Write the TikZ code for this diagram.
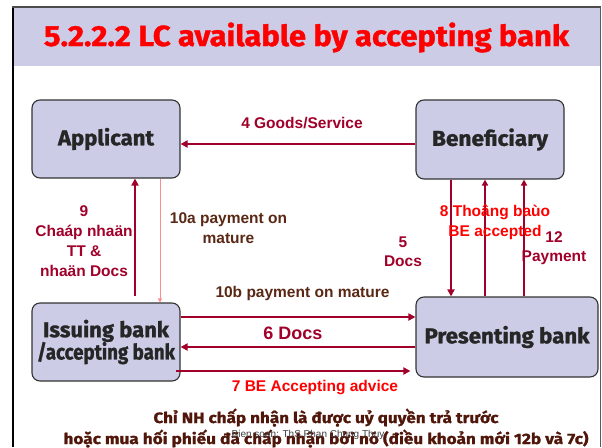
\documentclass[tikz,border=0pt]{standalone}
\usepackage{fontspec}
\usepackage{graphicx}
\setmainfont{Liberation Sans}
\newfontfamily\headfont[BoldFeatures={FakeBold=1.2}]{Fira Sans}
\usetikzlibrary{arrows.meta}

\definecolor{band}{HTML}{CCCCE6}
\definecolor{crim}{HTML}{A0002A}
\definecolor{brownt}{HTML}{5A2814}
\definecolor{darkb}{HTML}{50160A}
\definecolor{boxtxt}{HTML}{262626}
\definecolor{pinkline}{HTML}{FF8C8C}

% stretch a text horizontally to a given width, keeping its height
\newcommand\stretchto[2]{\resizebox{#1}{\height}{#2}}

\begin{document}
\begin{tikzpicture}[x=1pt,y=-1pt,
  party/.style={draw=black!80, line width=1.1pt, fill=band, rounded corners=8pt,
    inner sep=0pt, text=boxtxt, align=center,
    font=\headfont\bfseries\fontsize{21.5}{22}\selectfont},
  flow/.style={draw=crim, line width=2pt, -{Triangle[length=7pt,width=7pt]}},
  flowthin/.style={draw=crim, line width=1.5pt, -{Triangle[length=6pt,width=6pt]}},
  thinpink/.style={draw=pinkline, line width=0.9pt, -{Triangle[length=4pt,width=4pt]}},
  lbl/.style={inner sep=0pt, align=center, font=\bfseries\fontsize{15.5}{20}\selectfont},
  note/.style={inner sep=0pt, text=darkb, font=\headfont\bfseries\fontsize{15}{16}\selectfont}]

\useasboundingbox (0,0) rectangle (602,447);
\fill[white] (0,0) rectangle (602,447);

% slide frame and title band
\fill[band] (14,8) rectangle (600,66);
\draw[line width=2.5pt] (13,6) -- (13,447);
\draw[black!70, line width=1.2pt] (12,7) -- (600.5,7);
\draw[black!65, line width=1pt] (600,7) -- (600,447);

\node[inner sep=0pt, anchor=base, text=red] (title) at (306.5,46)
  {\stretchto{525pt}{\headfont\bfseries\fontsize{29}{30}\selectfont 5.2.2.2 LC available by accepting bank}};

% parties
\node[party, minimum width=148pt, minimum height=78pt] (app) at (106,139)
  {\stretchto{96pt}{Applicant}};
\node[party, minimum width=148pt, minimum height=79pt] (ben) at (490,139.5)
  {\stretchto{116pt}{Beneficiary}};
\node[party, minimum width=148pt, minimum height=78pt] (iss) at (106,342)
  {\stretchto{126pt}{Issuing bank}\\[-1pt]\stretchto{138pt}{/accepting bank}};
\node[party, minimum width=182pt, minimum height=80pt] (pres) at (507,337)
  {\stretchto{165pt}{Presenting bank}};

% helper points for the flows between the parties
\coordinate (r1) at ([yshift=25pt]iss.east);
\coordinate (r2) at ([yshift=-5pt]iss.east);
\coordinate (r3) at ([xshift=-5pt,yshift=-29pt]iss.east);
\coordinate (g4) at ([yshift=-4.5pt]ben.west);
\coordinate (d9) at ([xshift=29pt,yshift=6pt]iss.north);
\coordinate (u9) at ([xshift=29pt]app.south);
\coordinate (t10) at ([xshift=54pt]app.south);
\coordinate (b5) at ([xshift=-39pt]ben.south);
\coordinate (b8) at ([xshift=-5pt]ben.south);
\coordinate (b12) at ([xshift=34pt]ben.south);

% flows
\draw[flow] (g4) -- (g4 -| app.east);
\draw[flow, line width=2.3pt] (d9) -- (u9);
\draw[thinpink] (t10) -- (t10 |- iss.north);
\draw[flow, line width=2.3pt] (b5) -- (b5 |- pres.north);
\draw[flowthin] (b8 |- pres.north) -- (b8);
\draw[flowthin] (b12 |- pres.north) -- (b12);
\draw[flow] (r1) -- (r1 -| pres.west);
\draw[flow] (r2 -| pres.west) -- (r2);
\draw[flow, shorten >=5pt] (r3) -- (r3 -| pres.west);

% flow labels
\node[lbl, text=crim, anchor=base] (l4) at (302,128) {4 Goods/Service};
\node[lbl, text=crim] (l9) at (84,241) {9\\Chaáp nhaän\\TT \&\\nhaän Docs};
\node[lbl, text=brownt] (l10a) at (228.5,228) {10a payment on\\mature};
\node[lbl, text=crim, font=\bfseries\fontsize{15.5}{18.5}\selectfont] (l5) at (403,251.5) {5\\Docs};
\node[lbl, text=red] (l8) at (495,222) {8 Thoâng baùo\\BE accepted};
\node[lbl, text=crim, font=\bfseries\fontsize{15.5}{19}\selectfont] (l12) at (554,248.5) {12\\Payment};
\node[lbl, text=brownt, anchor=base] (l10b) at (302.5,297) {10b payment on mature};
\node[lbl, text=crim, anchor=base, font=\bfseries\fontsize{18}{20}\selectfont] (l6) at (293,339) {6 Docs};
\node[lbl, text=red, anchor=base] (l7) at (315,391) {7 BE Accepting advice};

% closing remark
\node[note, anchor=base] (n1) at (326,423)
  {\stretchto{345pt}{Chỉ NH chấp nhận là được uỷ quyền trả trước}};
\node[note, anchor=base] (n2) at (326,444)
  {\stretchto{525pt}{hoặc mua hối phiếu đã chấp nhận bởi nó (điều khoản mới 12b và 7c)}};
\node[inner sep=0pt, anchor=base, text=black!75, font=\fontsize{10}{11}\selectfont] (credit) at (308,437)
  {Bien soan: ThS Phan Chung Thuy};

\end{tikzpicture}
\end{document}
